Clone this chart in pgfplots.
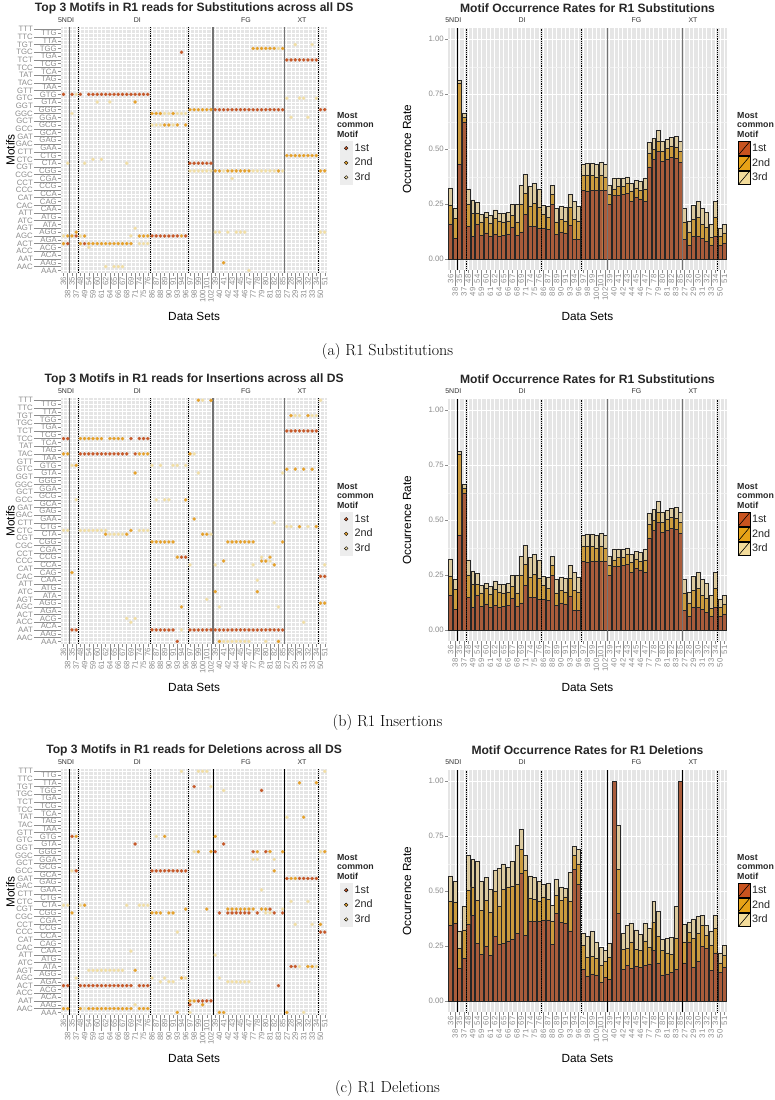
\documentclass[border=0pt]{standalone}
\usepackage{pgfplots}
\pgfplotsset{compat=1.18}
\usepackage{pgfplotstable}
\usepackage{fontspec}
\setsansfont{Liberation Sans}
\definecolor{panelbg}{HTML}{E5E5E5}
\definecolor{minorgrid}{HTML}{F2F2F2}
\definecolor{tickgray}{HTML}{8C8C8C}
\definecolor{keybg}{HTML}{EDEDED}
\definecolor{dA}{HTML}{C65A2B}
\definecolor{dB}{HTML}{E5A22E}
\definecolor{dC}{HTML}{F2DFA6}
\definecolor{bA}{HTML}{A95C3B}
\definecolor{bB}{HTML}{CB9B3E}
\definecolor{bC}{HTML}{DCCA9E}
\definecolor{lA}{HTML}{C8531F}
\definecolor{lB}{HTML}{E8A317}
\definecolor{lC}{HTML}{F3DC9B}
\newcommand{\tfont}{\sffamily\fontsize{7.8}{8.2}\selectfont}
\newcommand{\gfont}{\sffamily\fontsize{7}{7.5}\selectfont}

\pgfplotstableread{
x c1 c2 c3
0 0.16 0.245 0.325
1 0.095 0.185 0.23
2 0.43 0.80 0.815
3 0.625 0.645 0.665
4 0.15 0.25 0.32
5 0.105 0.21 0.27
6 0.16 0.21 0.26
7 0.11 0.17 0.205
8 0.12 0.19 0.215
9 0.105 0.165 0.20
10 0.115 0.185 0.225
11 0.105 0.175 0.21
12 0.11 0.17 0.21
13 0.115 0.175 0.215
14 0.145 0.20 0.25
15 0.11 0.17 0.25
16 0.125 0.25 0.335
17 0.205 0.30 0.385
18 0.15 0.24 0.33
19 0.15 0.255 0.345
20 0.14 0.235 0.32
21 0.14 0.205 0.245
22 0.135 0.19 0.24
23 0.25 0.295 0.335
24 0.115 0.17 0.23
25 0.125 0.18 0.24
26 0.12 0.175 0.235
27 0.155 0.235 0.295
28 0.09 0.18 0.265
29 0.09 0.175 0.24
30 0.315 0.38 0.43
31 0.31 0.38 0.435
32 0.315 0.38 0.435
33 0.315 0.375 0.43
34 0.315 0.38 0.44
35 0.315 0.375 0.43
36 0.25 0.295 0.335
37 0.29 0.32 0.37
38 0.29 0.33 0.37
39 0.295 0.33 0.37
40 0.30 0.345 0.375
41 0.265 0.31 0.345
42 0.28 0.325 0.36
43 0.275 0.315 0.355
44 0.265 0.32 0.37
45 0.42 0.48 0.53
46 0.455 0.50 0.55
47 0.49 0.535 0.585
48 0.445 0.49 0.535
49 0.455 0.505 0.545
50 0.465 0.515 0.555
51 0.46 0.51 0.56
52 0.44 0.49 0.535
53 0.09 0.17 0.23
54 0.065 0.125 0.175
55 0.105 0.18 0.245
56 0.105 0.19 0.265
57 0.095 0.16 0.23
58 0.08 0.145 0.215
59 0.065 0.10 0.16
60 0.105 0.19 0.265
61 0.065 0.105 0.14
62 0.075 0.12 0.16
}\barsSub

\pgfplotstableread{
x c1 c2 c3
0 0.345 0.455 0.57
1 0.355 0.45 0.545
2 0.15 0.24 0.32
3 0.195 0.325 0.43
4 0.35 0.505 0.665
5 0.39 0.52 0.645
6 0.265 0.46 0.635
7 0.215 0.415 0.545
8 0.25 0.46 0.565
9 0.21 0.405 0.51
10 0.295 0.50 0.595
11 0.26 0.43 0.605
12 0.265 0.51 0.625
13 0.275 0.52 0.61
14 0.28 0.525 0.635
15 0.31 0.53 0.71
16 0.58 0.69 0.78
17 0.30 0.595 0.665
18 0.365 0.47 0.57
19 0.365 0.465 0.565
20 0.365 0.455 0.545
21 0.37 0.475 0.53
22 0.37 0.465 0.535
23 0.26 0.365 0.435
24 0.40 0.48 0.555
25 0.36 0.46 0.52
26 0.355 0.475 0.515
27 0.32 0.455 0.585
28 0.60 0.665 0.705
29 0.53 0.625 0.69
30 0.145 0.255 0.31
31 0.115 0.20 0.295
32 0.125 0.205 0.32
33 0.12 0.195 0.27
34 0.085 0.165 0.245
35 0.11 0.18 0.23
36 0.10 0.20 0.265
37 1.00 1.00 1.00
38 0.40 0.60 0.80
39 0.145 0.235 0.31
40 0.165 0.24 0.345
41 0.15 0.27 0.355
42 0.16 0.235 0.325
43 0.155 0.23 0.305
44 0.165 0.275 0.355
45 0.17 0.245 0.33
46 0.23 0.36 0.455
47 0.175 0.295 0.41
48 0.12 0.23 0.28
49 0.125 0.22 0.285
50 0.13 0.215 0.29
51 0.145 0.285 0.43
52 1.00 1.00 1.00
53 0.175 0.27 0.35
54 0.27 0.315 0.36
55 0.155 0.285 0.375
56 0.18 0.31 0.385
57 0.25 0.345 0.39
58 0.24 0.30 0.345
59 0.14 0.255 0.32
60 0.22 0.33 0.39
61 0.13 0.175 0.22
62 0.155 0.21 0.255
}\barsDel

\pgfplotsset{
  ggbase/.style={
    scale only axis,
    clip=false,
    axis background/.style={fill=panelbg},
    axis x line*=bottom, axis y line*=left,
    axis line style={draw=none},
    tick align=outside,
    major tick length=3pt,
    tick style={tickgray, line width=0.5pt},
    tick label style={font=\tfont, text=tickgray, inner sep=1pt},
    grid=major,
    major grid style={white, line width=0.7pt},
    xmin=-0.6, xmax=62.6,
    xtick={0,2,...,62},
    xticklabels={36,35,48,54,60,62,65,67,69,74,76,87,89,91,94,97,99,101,39,41,43,45,47,78,80,82,85,28,30,32,34,51},
    xticklabel style={rotate=90, anchor=east},
    extra x ticks={1,3,...,61},
    extra x tick labels={38,37,49,59,61,64,66,68,71,75,86,88,90,93,96,98,100,102,40,42,44,46,77,79,81,83,27,29,31,33,50},
    extra x tick style={major tick length=16pt, grid=major},
    xlabel={Data Sets},
    label style={font=\sffamily\fontsize{11.8}{13}\selectfont, text=black},
    every axis title/.style={font=\sffamily\bfseries\fontsize{12.1}{14}\selectfont, text=black!85},
    legend cell align=left,
    legend style={draw=none, fill=none, font=\sffamily\fontsize{10.8}{12}\selectfont, text=black!85,
      row sep=0.6pt, inner sep=0pt, anchor=north west},
  },
  leftplot/.style={ggbase,
    width=266.3pt, height=245.7pt,
    ymin=-0.6, ymax=63.6,
    ytick={0,2,...,62},
    yticklabels={AAA,AAG,ACA,ACG,AGA,AGG,ATA,ATG,CAA,CAG,CCA,CCG,CGA,CGG,CTA,CTG,GAA,GAG,GCA,GCG,GGA,GGG,GTA,GTG,TAA,TAG,TCA,TCG,TGA,TGG,TTA,TTG},
    extra y ticks={1,3,...,63},
    extra y tick labels={AAC,AAT,ACC,ACT,AGC,AGT,ATC,ATT,CAC,CAT,CCC,CCT,CGC,CGT,CTC,CTT,GAC,GAT,GCC,GCT,GGC,GGT,GTC,GTT,TAC,TAT,TCC,TCT,TGC,TGT,TTC,TTT},
    extra y tick style={major tick length=27pt, grid=major},
    ylabel={Motifs},
    xlabel style={at={(axis description cs:0.5,-0.176)}, anchor=center},
    ylabel style={at={(axis description cs:-0.19,0.5)}, anchor=center},
    title style={at={(axis description cs:0.5,1.075)}, anchor=center},
    legend style={at={(axis description cs:1.046,0.536)}},
    legend image code/.code={\fill[keybg] (0pt,-6.8pt) rectangle (12.5pt,6.8pt); \fill[##1] (6.25pt,0pt) circle (1.8pt);},
  },
  rightplot/.style={ggbase,
    width=279pt, height=242pt,
    ymin=-0.05, ymax=1.05,
    ytick={0,0.25,0.5,0.75,1},
    yticklabels={0.00,0.25,0.50,0.75,1.00},
    minor ytick={0.125,0.375,0.625,0.875},
    minor tick length=0pt,
    yminorgrids,
    minor grid style={minorgrid, line width=0.4pt},
    ylabel={Occurrence Rate},
    xlabel style={at={(axis description cs:0.5,-0.189)}, anchor=center},
    ylabel style={at={(axis description cs:-0.147,0.5)}, anchor=center},
    title style={at={(axis description cs:0.5,1.082)}, anchor=center},
    legend style={at={(axis description cs:1.039,0.534)}},
    legend image code/.code={\draw[##1, draw=black, line width=0.5pt] (0pt,-6.8pt) rectangle (11.5pt,6.8pt); \draw[black, line width=0.5pt] (0pt,-6.8pt) -- (11.5pt,6.8pt);},
  },
  dotA/.style={only marks, mark=*, mark size=1.7pt, color=dA, mark options={draw=dA, fill=dA, line width=0.1pt}, forget plot},
  dotB/.style={only marks, mark=*, mark size=1.7pt, color=dB, mark options={draw=dB, fill=dB, line width=0.1pt}, forget plot},
  dotC/.style={only marks, mark=*, mark size=1.7pt, color=dC, mark options={draw=dC, fill=dC, line width=0.1pt}, forget plot},
  sepgray/.style={no markers, color=black!55, line width=1.3pt, forget plot},
  sepblack/.style={no markers, color=black, line width=0.8pt, forget plot},
  septhin/.style={no markers, color=black, line width=0.6pt, forget plot},
  sepdot/.style={no markers, color=black, line width=0.6pt, dash pattern=on 0.6pt off 1.2pt, forget plot},
  barA/.style={ybar, bar width=0.9, bar shift=0pt, fill=bA, draw=black!85, line width=0.45pt, forget plot},
  barB/.style={ybar, bar width=0.9, bar shift=0pt, fill=bB, draw=black!85, line width=0.45pt, forget plot},
  barC/.style={ybar, bar width=0.9, bar shift=0pt, fill=bC, draw=black!85, line width=0.45pt, forget plot},
}

\newcommand{\legtitle}{%
  \node[anchor=north west, align=left, inner sep=0pt, font=\sffamily\bfseries\fontsize{8.8}{9.2}\selectfont, text=black!85] at (axis description cs:1.036,0.652) {Most\\common\\Motif};
}
\newcommand{\leftgroups}{%
  \node[font=\gfont, text=black!80] at (axis cs:0.6,65.4) {5NDI};
  \node[font=\gfont, text=black!80] at (axis cs:17.5,65.4) {DI};
  \node[font=\gfont, text=black!80] at (axis cs:43.3,65.4) {FG};
  \node[font=\gfont, text=black!80] at (axis cs:56.6,65.4) {XT};
  \legtitle
}
\newcommand{\rightgroups}{%
  \node[font=\gfont, text=black!80] at (axis cs:0.6,1.088) {5NDI};
  \node[font=\gfont, text=black!80] at (axis cs:16.2,1.088) {DI};
  \node[font=\gfont, text=black!80] at (axis cs:42.1,1.088) {FG};
  \node[font=\gfont, text=black!80] at (axis cs:54.9,1.088) {XT};
  \legtitle
}
\newcommand{\dotlegend}{%
  \addlegendimage{fill=dA}\addlegendentry{1st}
  \addlegendimage{fill=dB}\addlegendentry{2nd}
  \addlegendimage{fill=dC}\addlegendentry{3rd}
}
\newcommand{\barlegend}{%
  \addlegendimage{fill=lA}\addlegendentry{1st}
  \addlegendimage{fill=lB}\addlegendentry{2nd}
  \addlegendimage{fill=lC}\addlegendentry{3rd}
}
\newcommand{\leftseps}[1]{%
  \addplot[#1] coordinates {(1.4,-0.6) (1.4,63.6)};
  \addplot[#1] coordinates {(35.5,-0.6) (35.5,63.6)};
  \addplot[#1] coordinates {(52.5,-0.6) (52.5,63.6)};
  \addplot[sepdot] coordinates {(3.45,-0.6) (3.45,63.6)};
  \addplot[sepdot] coordinates {(20.5,-0.6) (20.5,63.6)};
  \addplot[sepdot] coordinates {(29.5,-0.6) (29.5,63.6)};
  \addplot[sepdot] coordinates {(60.5,-0.6) (60.5,63.6)};
}
\newcommand{\rightseps}[1]{%
  \addplot[septhin] coordinates {(1.4,-0.05) (1.4,1.05)};
  \addplot[#1] coordinates {(35.5,-0.05) (35.5,1.05)};
  \addplot[#1] coordinates {(52.5,-0.05) (52.5,1.05)};
  \addplot[sepdot] coordinates {(3.45,-0.05) (3.45,1.05)};
  \addplot[sepdot] coordinates {(20.5,-0.05) (20.5,1.05)};
  \addplot[sepdot] coordinates {(29.5,-0.05) (29.5,1.05)};
  \addplot[sepdot] coordinates {(60.5,-0.05) (60.5,1.05)};
}
\newcommand{\bars}[1]{%
  \addplot[barC] table[x=x, y=c3] {#1};
  \addplot[barB] table[x=x, y=c2] {#1};
  \addplot[barA] table[x=x, y=c1] {#1};
}

\begin{document}
\begin{tikzpicture}
\useasboundingbox (0pt,0pt) rectangle (775pt,-1100pt);

% ---------------- (a) left
\begin{axis}[leftplot, at={(61pt,-272.7pt)}, anchor=south west,
  title={Top 3 Motifs in R1 reads for Substitutions across all DS}]
\addplot[dotC] coordinates {(0,9)(4,9)(16,9)(1,28)(5,28)(15,28)(2,41)(24,41)(25,41)(27,41)(28,41)(29,41)(3,46)(6,6)(7,29)(9,29)(8,44)(11,44)(10,1)(12,1)(13,1)(14,1)(17,11)(18,7)(19,7)(20,7)(21,38)(22,38)(23,38)(26,38)
 (30,26)(31,26)(32,26)(33,26)(34,26)(35,26)(38,26)(45,26)(46,26)(47,26)(48,26)(49,26)(50,26)(52,26)
 (36,10)(37,10)(39,10)(41,10)(42,10)(43,10)(61,10)(62,10)(40,24)(44,0)(51,58)(53,45)(56,45)(57,45)(60,45)(54,40)(58,40)(55,59)(59,59)};
\addplot[dotB] coordinates {(0,7)(4,7)(6,7)(7,7)(8,7)(9,7)(10,7)(11,7)(12,7)(13,7)(14,7)(15,7)(16,7)
 (1,9)(2,9)(5,9)(18,9)(19,9)(20,9)(28,9)(17,44)(3,10)(21,41)(22,41)(23,41)(26,41)(24,38)(25,38)(27,38)(29,38)
 (30,42)(31,42)(32,42)(33,42)(34,42)(35,42)
 (36,26)(37,26)(39,26)(40,26)(41,26)(42,26)(43,26)(44,26)(51,26)(61,26)(62,26)(38,2)
 (45,58)(46,58)(47,58)(48,58)(49,58)(50,58)(52,58)
 (53,30)(54,30)(55,30)(56,30)(57,30)(58,30)(59,30)(60,30)};
\addplot[dotA] coordinates {(0,46)(2,46)(4,46)(6,46)(7,46)(8,46)(9,46)(10,46)(11,46)(12,46)(13,46)(14,46)(15,46)(16,46)(17,46)(18,46)(19,46)(20,46)
 (1,7)(5,7)(3,9)(21,9)(22,9)(23,9)(24,9)(25,9)(26,9)(27,9)(29,9)(28,57)
 (30,28)(31,28)(32,28)(33,28)(34,28)(35,28)
 (36,42)(37,42)(38,42)(39,42)(40,42)(41,42)(42,42)(43,42)(44,42)(45,42)(46,42)(47,42)(48,42)(49,42)(50,42)(51,42)(52,42)(61,42)(62,42)
 (53,55)(54,55)(55,55)(56,55)(57,55)(58,55)(59,55)(60,55)};
\leftseps{sepgray}
\dotlegend
\leftgroups
\end{axis}

% ---------------- (a) right
\begin{axis}[rightplot, at={(448pt,-270.3pt)}, anchor=south west,
  title={Motif Occurrence Rates for R1 Substitutions}]
\bars{\barsSub}
\rightseps{sepgray}
\barlegend
\rightgroups
\end{axis}

% ---------------- (b) left
\begin{axis}[leftplot, at={(61pt,-643.7pt)}, anchor=south west,
  title={Top 3 Motifs in R1 reads for Insertions across all DS}]
\addplot[dotC] coordinates {(0,29)(1,29)(4,29)(5,29)(6,29)(7,29)(8,29)(9,29)(10,29)(18,29)(19,29)(20,29)
 (11,28)(12,28)(13,28)(14,28)(15,6)(17,6)(16,5)(2,46)(21,46)(23,46)(26,46)(27,46)(29,46)(3,37)(24,37)(25,37)(22,37)
 (28,3)(30,20)(31,49)(32,44)(33,63)(34,11)(35,28)(36,20)(37,9)(38,0)(39,0)(40,0)(41,0)(42,0)(43,0)(44,0)
 (45,20)(46,16)(47,22)(48,0)(49,21)(50,31)(51,9)(52,44)(53,30)(54,30)(58,30)(55,59)(56,59)(59,59)(60,59)(57,5)(61,63)(62,20)};
\addplot[dotB] coordinates {(0,49)(1,49)(18,49)(19,49)(20,49)(30,49)(2,18)(3,46)
 (4,53)(5,53)(6,53)(7,53)(8,53)(9,53)(11,53)(12,53)(13,53)(14,53)(10,28)(15,28)(33,28)(34,28)(16,29)(17,44)
 (21,26)(22,26)(23,26)(24,26)(25,26)(26,26)(39,26)(40,26)(41,26)(42,26)(43,26)(44,26)(45,26)(52,26)
 (27,22)(49,22)(28,9)(29,37)(31,32)(32,63)(35,63)(36,13)(46,13)(37,0)(51,0)(38,21)(47,21)(48,21)(50,20)
 (53,45)(55,45)(57,45)(59,45)(54,59)(58,59)(56,30)(60,30)(61,10)(62,10)};
\addplot[dotA] coordinates {(0,53)(1,53)(16,53)(18,53)(19,53)(20,53)
 (4,49)(5,49)(6,49)(7,49)(8,49)(9,49)(10,49)(11,49)(12,49)(13,49)(14,49)(15,49)(17,49)
 (2,3)(3,3)(21,3)(22,3)(23,3)(24,3)(25,3)(26,3)(30,3)(31,3)(32,3)(33,3)(34,3)(35,3)(36,3)(37,3)(38,3)(39,3)(40,3)
 (41,3)(42,3)(43,3)(44,3)(45,3)(46,3)(47,3)(48,3)(49,3)(50,3)(51,3)(52,3)
 (27,0)(28,22)(29,22)(53,55)(54,55)(55,55)(56,55)(57,55)(58,55)(59,55)(60,55)(61,17)(62,17)};
\leftseps{sepgray}
\dotlegend
\leftgroups
\end{axis}

% ---------------- (b) right
\begin{axis}[rightplot, at={(448pt,-641.3pt)}, anchor=south west,
  title={Motif Occurrence Rates for R1 Substitutions}]
\bars{\barsSub}
\rightseps{sepgray}
\barlegend
\rightgroups
\end{axis}

% ---------------- (c) left
\begin{axis}[leftplot, at={(61pt,-1014.7pt)}, anchor=south west,
  title={Top 3 Motifs in R1 reads for Deletions across all DS}]
\addplot[dotC] coordinates {(0,28)(1,28)(4,28)(15,28)(18,28)(19,28)(20,28)(5,1)
 (6,11)(7,11)(8,11)(9,11)(10,11)(11,11)(12,11)(13,11)(14,11)(16,16)(17,2)(2,37)(3,9)(21,9)(24,9)(29,9)(37,9)(22,46)
 (23,8)(25,8)(26,8)(39,8)(40,8)(41,8)(42,8)(43,8)(44,8)(27,21)(28,63)(32,63)(33,63)(34,63)(62,63)(30,0)(57,0)
 (31,42)(61,42)(35,59)(36,15)(38,58)(45,40)(46,40)(50,40)(47,32)(48,26)(49,26)(52,27)(53,51)(54,29)(58,29)
 (55,23)(59,23)(56,12)(60,12)};
\addplot[dotB] coordinates {(0,1)(1,1)(4,1)(6,1)(7,1)(8,1)(9,1)(10,1)(11,1)(12,1)(13,1)(14,1)(15,1)(16,1)(18,1)(19,1)(20,1)
 (5,28)(2,26)(21,26)(22,26)(23,26)(25,26)(26,26)(3,46)(24,46)(36,46)(17,11)(27,0)(28,9)
 (29,27)(34,27)(39,27)(40,27)(41,27)(42,27)(43,27)(44,27)(45,27)(47,27)(48,27)(30,3)(31,3)
 (32,42)(35,42)(46,42)(49,42)(52,42)(62,42)(33,2)(37,0)(38,0)(53,0)(50,37)(54,35)(55,35)(56,60)(60,60)(57,51)
 (58,12)(59,12)(61,23)};
\addplot[dotA] coordinates {(0,7)(1,7)(4,7)(5,7)(6,7)(7,7)(8,7)(9,7)(10,7)(11,7)(12,7)(13,7)(14,7)(15,7)(16,7)(18,7)(19,7)(20,7)(51,7)
 (2,46)(3,37)(21,37)(22,37)(23,37)(24,37)(25,37)(26,37)(27,37)(28,37)(29,37)(17,44)(38,44)(30,2)(31,59)
 (32,3)(33,3)(34,3)(35,3)(36,42)(45,42)(48,42)(37,26)(39,26)(40,26)(41,26)(42,26)(43,26)(44,26)(46,26)(50,26)(52,26)
 (47,58)(49,27)(53,35)(56,35)(57,35)(58,35)(59,35)(60,35)(54,12)(55,12)(61,21)(62,21)};
\leftseps{sepblack}
\dotlegend
\leftgroups
\end{axis}

% ---------------- (c) right
\begin{axis}[rightplot, at={(448pt,-1012.3pt)}, anchor=south west,
  title={Motif Occurrence Rates for R1 Deletions}]
\bars{\barsDel}
\rightseps{septhin}
\barlegend
\rightgroups
\end{axis}

\node[font=\fontsize{16}{19}\selectfont] at (387.5pt,-352pt) {(a) R1 Substitutions};
\node[font=\fontsize{16}{19}\selectfont] at (387.5pt,-722pt) {(b) R1 Insertions};
\node[font=\fontsize{16}{19}\selectfont] at (387.5pt,-1088pt) {(c) R1 Deletions};
\end{tikzpicture}
\end{document}
